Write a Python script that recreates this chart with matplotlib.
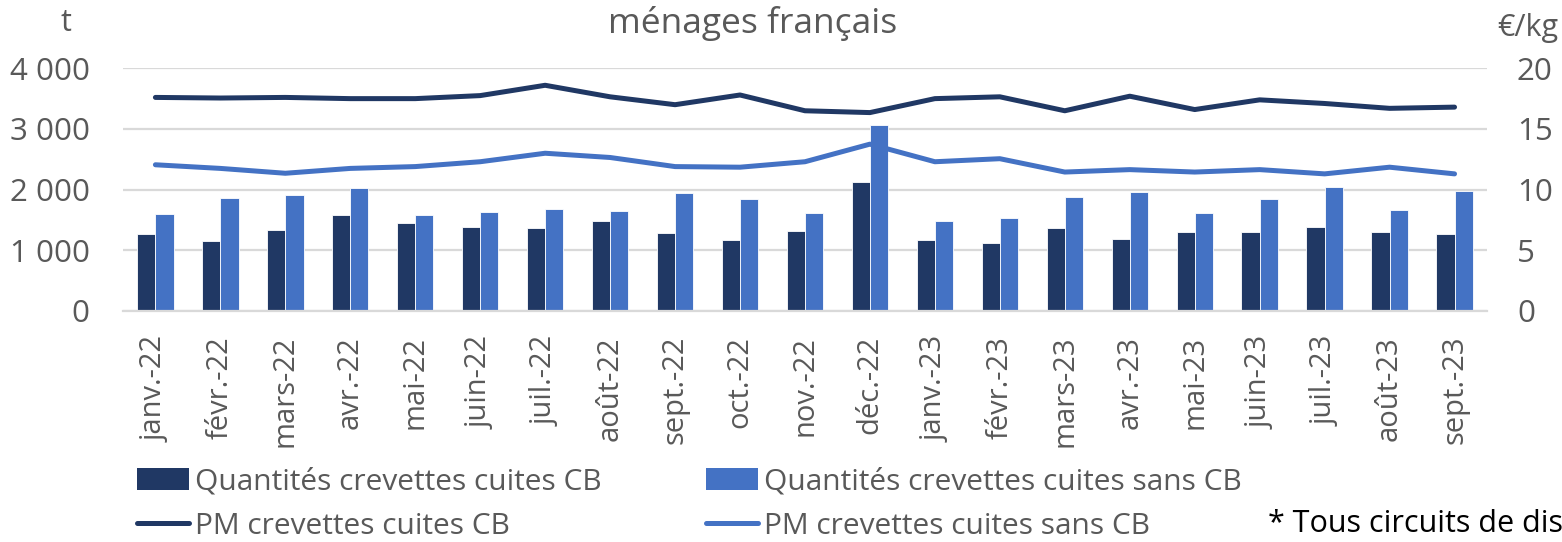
import matplotlib
matplotlib.use("Agg")
import matplotlib.pyplot as plt
import numpy as np
from matplotlib.ticker import FuncFormatter, FixedLocator
from matplotlib.patches import Patch
from matplotlib.lines import Line2D

plt.rcParams['font.family'] = ['Open Sans', 'DejaVu Sans']

months = ["janv.-22", "févr.-22", "mars-22", "avr.-22", "mai-22", "juin-22", "juil.-22",
          "août-22", "sept.-22", "oct.-22", "nov.-22", "déc.-22", "janv.-23", "févr.-23",
          "mars-23", "avr.-23", "mai-23", "juin-23", "juil.-23", "août-23", "sept.-23"]

qty_cb = [1264, 1154, 1341, 1577, 1451, 1390, 1374, 1489, 1280, 1170, 1324, 2132,
          1170, 1121, 1366, 1190, 1306, 1306, 1383, 1295, 1267]
qty_sans_cb = [1599, 1857, 1907, 2033, 1577, 1626, 1687, 1648, 1945, 1846, 1615, 3066,
               1484, 1533, 1879, 1967, 1620, 1846, 2050, 1664, 1983]
pm_cb = [17.6, 17.55, 17.6, 17.5, 17.5, 17.75, 18.6, 17.65, 17.0, 17.8, 16.5, 16.35,
         17.5, 17.65, 16.5, 17.7, 16.6, 17.4, 17.1, 16.7, 16.8]
pm_sans_cb = [12.05, 11.75, 11.35, 11.75, 11.9, 12.3, 13.0, 12.65, 11.9, 11.85, 12.3, 13.75,
              12.3, 12.55, 11.45, 11.65, 11.45, 11.65, 11.3, 11.85, 11.3]

c_dark = "#203864"
c_light = "#4472C4"
c_text = "#595959"
c_grid = "#D9D9D9"

fig = plt.figure(figsize=(15.62, 5.42), dpi=100)
ax = fig.add_axes([0.0787, 0.4262, 0.8733, 0.4478])
ax2 = ax.twinx()

x = np.arange(len(months))
w = 0.28
ax.bar(x - w / 2, qty_cb, width=w, color=c_dark, edgecolor="white", linewidth=0.6, zorder=2)
ax.bar(x + w / 2, qty_sans_cb, width=w, color=c_light, edgecolor="white", linewidth=0.6, zorder=2)

ax2.plot(x, pm_cb, color=c_dark, lw=3.6, solid_capstyle='round', solid_joinstyle='round', zorder=3)
ax2.plot(x, pm_sans_cb, color=c_light, lw=3.6, solid_capstyle='round', solid_joinstyle='round', zorder=3)

ax.set_xlim(-0.5, len(months) - 0.5)
ax.set_ylim(0, 4000)
ax2.set_ylim(0, 20)
ax.yaxis.set_major_locator(FixedLocator([0, 1000, 2000, 3000, 4000]))
ax2.yaxis.set_major_locator(FixedLocator([0, 5, 10, 15, 20]))
ax.yaxis.set_major_formatter(FuncFormatter(lambda v, p: f"{int(v):,}".replace(",", " ")))
ax2.yaxis.set_major_formatter(FuncFormatter(lambda v, p: f"{int(v)}"))

ax.grid(axis='y', color=c_grid, lw=1.6, zorder=0)
ax.set_axisbelow(True)
for a in (ax, ax2):
    for s in a.spines.values():
        s.set_visible(False)
ax.spines['bottom'].set_visible(True)
ax.spines['bottom'].set_color(c_grid)
ax.spines['bottom'].set_linewidth(1.6)

ax.set_xticks(x)
ax.set_xticklabels(months, rotation=90, ha='center', va='top')
ax.tick_params(axis='x', length=0, pad=18, labelsize=21, labelcolor=c_text)
ax.tick_params(axis='y', length=0, pad=24, labelsize=22.5, labelcolor=c_text)
ax2.tick_params(axis='y', length=0, pad=21.5, labelsize=22.5, labelcolor=c_text)

fig.text(0.482, 0.957, "ménages français", ha='center', va='center', fontsize=25.5, color=c_text)
fig.text(0.042, 0.958, "t", ha='center', va='center', fontsize=22, color=c_text)
fig.text(0.9585, 0.948, "€/kg", ha='left', va='center', fontsize=22, color=c_text)
fig.text(0.8115, 0.034, "* Tous circuits de distribution", ha='left', va='center', fontsize=22, color="black")

h1 = [Patch(facecolor=c_dark), Line2D([], [], color=c_dark, lw=3.6, solid_capstyle='round')]
l1 = ["Quantités crevettes cuites CB", "PM crevettes cuites CB"]
h2 = [Patch(facecolor=c_light), Line2D([], [], color=c_light, lw=3.6, solid_capstyle='round')]
l2 = ["Quantités crevettes cuites sans CB", "PM crevettes cuites sans CB"]
kw = dict(loc='upper left', frameon=False, fontsize=21.5, handlelength=1.75,
          handleheight=0.75, handletextpad=0.2, labelspacing=0.52, borderaxespad=0, borderpad=0,
          labelcolor=c_text)
fig.legend(h1, l1, bbox_to_anchor=(0.0877, 0.138), bbox_transform=fig.transFigure, **kw)
fig.legend(h2, l2, bbox_to_anchor=(0.452, 0.138), bbox_transform=fig.transFigure, **kw)

fig.savefig("out.png", dpi=100)
